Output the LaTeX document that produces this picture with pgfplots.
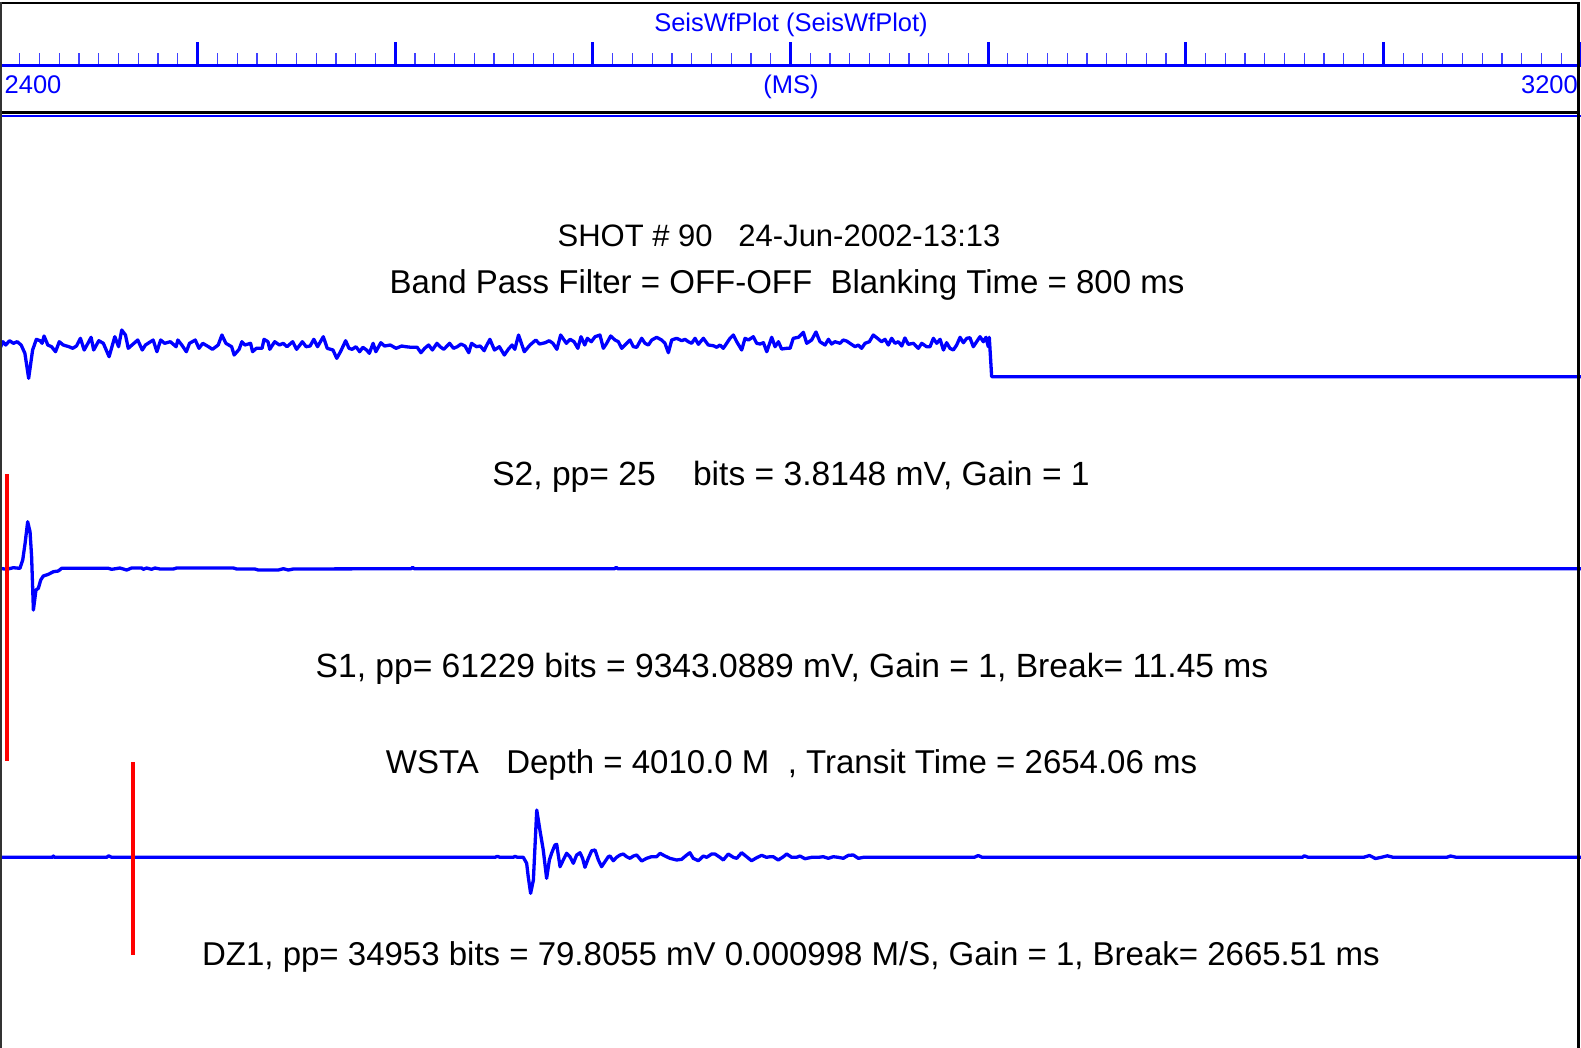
\documentclass[border=0pt]{standalone}
\usepackage{fontspec}
\setmainfont{Liberation Sans}
\usepackage{pgfplots}
\pgfplotsset{compat=1.18}
\definecolor{wfblue}{RGB}{0,0,255}
\definecolor{wfred}{RGB}{255,0,0}
\begin{document}
\begin{tikzpicture}
\path[use as bounding box] (0pt,0pt) rectangle (1581pt,-1048pt);
% ruler axis
\begin{axis}[
  at={(0pt,-65.5pt)}, anchor=south west,
  scale only axis, width=1581pt, height=20pt,
  xmin=2400, xmax=3200, ymin=0, ymax=1,
  axis x line=bottom, axis y line=none,
  axis line style={wfblue, line width=3pt, -},
  xtick={2400,2500,...,3200}, minor x tick num=9,
  xtick align=inside, xticklabels={},
  major tick length=23pt, minor tick length=12pt,
  every major tick/.append style={wfblue, line width=3.2pt},
  every minor tick/.append style={wfblue!75, line width=1.2pt},
]
\end{axis}
% main axis
\begin{axis}[
  at={(0pt,0pt)}, anchor=north west,
  scale only axis, width=1581pt, height=1048pt,
  xmin=2400, xmax=3200, ymin=0, ymax=1048, y dir=reverse,
  hide axis, clip=false,
]
% trace 1 (top, noise then blanking)
\addplot[wfblue, line width=3.3pt, line join=round] coordinates {
(2400.0,348.3) (2401.5,341.7) (2402.9,345) (2404.8,340.7) (2406.8,343.3) (2408.7,341.7) (2410.7,345) (2412.6,353.3) (2414.5,378.3) (2416.5,350)
(2418.4,339.3) (2420.3,340.7) (2421.3,343.3) (2422.3,336) (2424.2,345) (2426.1,346.7) (2428.1,351.7) (2430.0,341.7) (2432.0,345) (2434.9,346.7)
(2436.8,348.3) (2438.7,346) (2440.7,338.3) (2442.6,350) (2444.5,343.3) (2446.1,337.3) (2447.4,350) (2450.0,340.7) (2452.3,343.3) (2455.2,356.7)
(2458.1,336.7) (2460.0,346.7) (2461.6,330) (2463.5,335) (2464.9,348.3) (2466.8,345) (2469.7,340) (2472.0,350) (2473.6,345) (2477.5,340)
(2479.4,351.7) (2481.3,340) (2483.3,343.3) (2486.2,341.7) (2489.1,346.7) (2490.0,340) (2492.0,345) (2494.3,351.7) (2495.9,343.3) (2498.8,340)
(2500.7,348.3) (2502.6,343.3) (2505.5,346.7) (2507.5,349.3) (2510.4,345) (2512.3,335) (2514.3,343.3) (2517.2,346.7) (2518.5,355) (2521.0,349.3)
(2522.4,341.7) (2523.9,345) (2526.8,343.3) (2527.8,351.7) (2529.7,348.3) (2532.6,348.3) (2533.6,339.3) (2535.6,341.7) (2536.5,349.3) (2539.0,341.7)
(2541.4,345) (2543.3,343.3) (2545.2,346.7) (2548.1,341.7) (2550.1,349.3) (2553.0,341.7) (2554.9,346.7) (2556.9,346) (2558.8,339.3) (2560.7,346.7)
(2563.6,336.7) (2565.6,348.3) (2568.5,350) (2570.4,358.3) (2572.3,351.7) (2574.9,340.7) (2576.6,348.3) (2578.2,349.3) (2580.1,346.7) (2582.0,351.7)
(2583.6,347.3) (2585.5,350) (2586.9,353.3) (2588.8,343.3) (2590.2,351.7) (2592.7,342.7) (2594.6,346) (2597.5,345) (2600.4,348.3) (2603.3,346)
(2605.3,346.7) (2608.2,347.3) (2611.1,347.3) (2613.0,352.7) (2614.9,348.3) (2616.9,345) (2618.8,350) (2621.1,343.3) (2622.7,346.7) (2624.6,349.3)
(2627.5,343.3) (2629.5,348.3) (2631.4,346.7) (2633.3,344) (2635.3,346) (2637.2,352.7) (2638.6,343.3) (2641.1,346.7) (2643.0,346) (2645.0,350.7)
(2645.9,346.7) (2647.9,339.3) (2650.2,350) (2652.7,346.7) (2655.2,355) (2657.2,349.3) (2659.1,345) (2660.5,349.3) (2662.4,335) (2665.3,351.7)
(2668.2,345) (2671.1,340) (2673.0,344) (2675.9,342.7) (2677.9,340.7) (2679.8,343.3) (2681.8,349.3) (2683.7,335) (2686.6,343.3) (2688.5,339.3)
(2690.5,341.7) (2692.4,348.3) (2694.0,336.7) (2695.9,345) (2697.2,338.3) (2699.2,341.7) (2701.1,336.7) (2703.6,335)
(2705.3,348.3) (2707.0,343.3) (2709.0,336) (2711.2,340) (2712.9,341.7) (2714.6,348.3) (2717.1,343.3) (2718.8,340) (2720.5,346.7) (2722.2,347.3)
(2724.7,338.3) (2726.4,343.3) (2728.1,345) (2729.8,340) (2732.3,337.3) (2734.8,340) (2736.5,343.3) (2738.2,352.7) (2739.9,340) (2742.4,338.3)
(2745.0,340.7) (2746.6,339.3) (2748.3,341.7) (2750.0,343.3) (2751.7,338.3) (2753.4,344.3) (2755.9,338.3) (2758.4,345) (2761.0,345.7) (2762.7,347.3)
(2764.3,345) (2766.0,348.3) (2767.7,343.3) (2769.4,338.3) (2771.1,335) (2772.8,341.7) (2775.3,350) (2777.0,338.3) (2778.7,340) (2781.2,336.7)
(2782.9,343.3) (2784.6,344) (2786.3,342.7) (2788.0,351.7) (2790.5,337.3) (2792.2,346.7) (2793.9,341.7) (2795.5,349) (2798.1,348.3) (2799.8,348.3)
(2801.4,338.3) (2804.0,337.3) (2806.5,332.3) (2808.2,343.3) (2810.7,340) (2812.9,332) (2814.9,341.7) (2817.5,345) (2819.2,339.3) (2820.8,344)
(2822.5,341.7) (2825.1,343.3) (2826.7,340) (2828.4,341) (2830.1,343.3) (2832.7,346.7) (2834.3,345) (2836.0,348.3) (2837.7,343.3) (2839.9,341.7)
(2841.9,335) (2844.0,338.3) (2846.1,341.7) (2847.8,339.3) (2849.5,345) (2851.2,338.3) (2852.9,343.3) (2854.6,341.7) (2856.3,346) (2857.9,338)
(2859.6,344.3) (2862.2,343.3) (2864.7,348.3) (2866.4,343.3) (2868.9,346.7) (2870.6,346.7) (2872.3,338.3) (2874.0,343.3) (2875.7,339.3) (2877.4,350)
(2879.0,342.7) (2880.7,348.3) (2882.4,350) (2884.1,345) (2885.8,337.3) (2887.5,342.7) (2889.2,338.3) (2890.8,337.7) (2892.5,346.7) (2894.2,341.7)
(2895.9,336.7) (2897.6,341.7) (2898.9,337.3) (2900.1,346.7) (2900.6,337.3) (2901.8,376.7) (3200,376.7)
};
% trace 2 (S1)
\addplot[wfblue, line width=3.3pt, line join=round] coordinates {
(2400.0,568.3) (2403.4,569.3) (2406.7,567.7) (2410.1,568.3) (2411.5,560) (2412.7,543.3) (2414.0,521.7) (2415.2,531.7) (2416.0,556.7) (2416.9,610)
(2418.2,590) (2419.4,588.3) (2420.6,580) (2421.9,576) (2424.5,574.3) (2427.0,571.7) (2429.5,571) (2431.2,568.3) (2454.8,568.3) (2456.5,569.3)
(2460.7,568) (2464.1,570) (2466.6,568) (2471.7,568) (2472.5,569.3) (2474.2,568) (2476.7,569.3) (2478.4,568) (2481.0,569) (2487.7,569)
(2489.4,568) (2518.1,568) (2519.8,569) (2529.0,569) (2530.7,570) (2540.8,570) (2543.4,568.7) (2545.9,570) (2548.4,569) (2602.4,568.7)
(2608,568.7) (2608.8,567.3) (2609.6,568.7) (2711,568.7) (2711.8,567.3) (2712.6,568.7) (3200,568.7)
};
% trace 3 (DZ1)
\addplot[wfblue, line width=3.3pt, line join=round] coordinates {
(2400,857.3) (2426.5,857.3) (2427,856) (2427.5,857.3) (2454,857.3) (2455,855.8) (2456.5,857.3) (2602.4,857.3)
(2650.5,857.3) (2651.7,856.3) (2653.0,857.3) (2659.7,857.3) (2660.6,856.3) (2661.8,857.3) (2664.8,857.3) (2666.5,863.3) (2667.3,876.7) (2668.5,893.3)
(2669.9,880) (2671.6,810) (2673.2,830) (2674.9,850) (2676.6,878.3) (2678.0,860) (2679.1,853.3) (2680.8,845) (2681.7,844.3) (2683.4,866.7)
(2685.0,860) (2686.7,853.3) (2688.4,856.7) (2690.1,863.3) (2691.8,855) (2693.5,852.7) (2694.8,858.3) (2696.0,867.3) (2697.7,858.3) (2699.4,850.7)
(2701.1,850) (2702.8,860) (2704.4,866.7) (2706.1,861.7) (2707.8,856.7) (2708.7,856) (2710.3,860.7) (2712.0,857.3) (2713.7,855) (2715.4,854)
(2717.1,856.7) (2718.8,858.3) (2720.5,856) (2722.2,855) (2724.7,861) (2727.2,858.3) (2729.7,856.7) (2732.3,856.7) (2734.0,853.3) (2736.5,856)
(2739.0,858.3) (2742.4,860) (2744.9,859.3) (2747.5,855) (2749.1,852.7) (2750.8,858.3) (2753.4,860.7) (2755.9,856) (2757.6,857.3) (2760.1,854)
(2761.8,854) (2764.3,857.3) (2766.0,860) (2768.5,854) (2771.1,857.3) (2772.8,858.3) (2775.3,852.7) (2777.8,856.7) (2780.3,860.7) (2782.9,857.7)
(2785.4,855.3) (2787.9,857.3) (2789.6,856.7) (2791.3,856.7) (2793.8,860) (2796.4,856.7) (2798.1,854) (2800.6,857.3) (2803.1,857.3) (2804.8,856)
(2807.3,858.7) (2810.7,857.3) (2814.1,857.3) (2816.6,856.7) (2819.1,858.3) (2821.7,856.7) (2824.2,857.3) (2826.7,858.3) (2829.3,855.3) (2831.8,855)
(2834.3,858.3) (2836.9,857.3) (2893,857.3) (2895,855.5) (2897,857.3) (3059,857.3) (3060,855.8) (3062,857.3) (3090,857.3) (3093,855.5)
(3096,858.5) (3099,857.3) (3102,855.8) (3105,857.3) (3132,857.3) (3134,856) (3137,857.3) (3200,857.3)
};
% break markers
\addplot[wfred, line width=4pt] coordinates {(2403.4,474) (2403.4,761)};
\addplot[wfred, line width=4pt] coordinates {(2467.3,762) (2467.3,955)};
\end{axis}
% frames
\draw[black, line width=2.5pt] (0pt,-3pt) -- (1578pt,-3pt);
\draw[black, line width=2.5pt] (0pt,-112.5pt) -- (1578pt,-112.5pt);
\draw[wfblue, line width=2.5pt] (0pt,-115.8pt) -- (1581pt,-115.8pt);
\draw[black!80, line width=2pt] (1pt,-2pt) -- (1pt,-1048pt);
\draw[black, line width=3pt] (1578.5pt,-2pt) -- (1578.5pt,-1048pt);
% ruler texts
\begin{scope}[every node/.style={text=wfblue, inner sep=0pt, font=\fontsize{25.5}{30}\selectfont}]
\node[anchor=base] at (791pt,-32pt) {SeisWfPlot (SeisWfPlot)};
\node[anchor=base west] at (4.5pt,-93.5pt) {2400};
\node[anchor=base] at (791pt,-93.5pt) {(MS)};
\node[anchor=base east] at (1578pt,-93.5pt) {3200};
\end{scope}
% annotation texts
\begin{scope}[every node/.style={text=black, inner sep=0pt, anchor=base, font=\fontsize{33}{40}\selectfont}]
\node[font=\fontsize{31}{38}\selectfont] at (779pt,-247pt) {SHOT \# 90~~~24-Jun-2002-13:13};
\node at (787pt,-294pt) {Band Pass Filter = OFF-OFF~~Blanking Time = 800 ms};
\node[font=\fontsize{33.6}{40}\selectfont] at (791pt,-485pt) {S2, pp= 25~~~~bits = 3.8148 mV, Gain = 1};
\node[font=\fontsize{33.6}{40}\selectfont] at (792pt,-677pt) {S1, pp= 61229 bits = 9343.0889 mV, Gain = 1, Break= 11.45 ms};
\node at (791.5pt,-773pt) {WSTA~~~Depth = 4010.0 M~~, Transit Time = 2654.06 ms};
\node at (791pt,-965pt) {DZ1, pp= 34953 bits = 79.8055 mV 0.000998 M/S, Gain = 1, Break= 2665.51 ms};
\end{scope}
\end{tikzpicture}
\end{document}
